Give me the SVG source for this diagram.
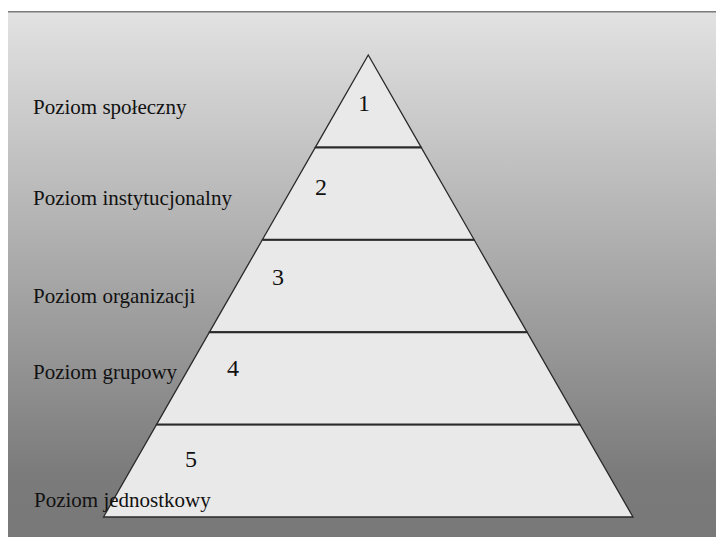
<svg xmlns="http://www.w3.org/2000/svg" width="716" height="537" viewBox="0 0 716 537">
<defs>
<linearGradient id="bg" x1="0" y1="12" x2="0" y2="537" gradientUnits="userSpaceOnUse">
<stop offset="0" stop-color="#e2e2e2"/>
<stop offset="0.88" stop-color="#7b7b7b"/>
<stop offset="1" stop-color="#787878"/>
</linearGradient>
</defs>
<style>
.layer{fill:#e9e9e9;stroke:#2a2a2a;stroke-width:1.3;stroke-linejoin:miter}
.div{stroke:#2a2a2a;stroke-width:2;fill:none}
.num{font-family:"Liberation Serif","Times New Roman",serif;font-size:24px;fill:#111}
.lbl{font-family:"Liberation Serif","Times New Roman",serif;font-size:21px;fill:#111}
</style>
<rect x="0" y="0" width="716" height="537" fill="#ffffff"/>
<rect x="8" y="12" width="708" height="525" fill="url(#bg)"/>
<line x1="8" y1="11.8" x2="716" y2="11.8" stroke="#7a7a7a" stroke-width="1.6"/>
<g id="pyramid">
<g id="layer1"><polygon class="layer" points="368.25,55 421.2,147.4 315.3,147.4"/><text class="num" x="358" y="111">1</text></g>
<g id="layer2"><polygon class="layer" points="315.3,147.4 421.2,147.4 474.15,239.8 262.35,239.8"/><text class="num" x="315" y="195">2</text></g>
<g id="layer3"><polygon class="layer" points="262.35,239.8 474.15,239.8 527.1,332.2 209.4,332.2"/><text class="num" x="272" y="285">3</text></g>
<g id="layer4"><polygon class="layer" points="209.4,332.2 527.1,332.2 580.05,424.6 156.45,424.6"/><text class="num" x="227" y="376">4</text></g>
<g id="layer5"><polygon class="layer" points="156.45,424.6 580.05,424.6 633,517 103.5,517"/><text class="num" x="185" y="467">5</text></g>
</g>
<g id="connectors">
<line class="div" x1="315.3" y1="147.4" x2="421.2" y2="147.4"/>
<line class="div" x1="262.35" y1="239.8" x2="474.15" y2="239.8"/>
<line class="div" x1="209.4" y1="332.2" x2="527.1" y2="332.2"/>
<line class="div" x1="156.45" y1="424.6" x2="580.05" y2="424.6"/>
</g>
<g id="label1"><text class="lbl" x="33" y="114">Poziom społeczny</text></g>
<g id="label2"><text class="lbl" x="33" y="205">Poziom instytucjonalny</text></g>
<g id="label3"><text class="lbl" x="33" y="303">Poziom organizacji</text></g>
<g id="label4"><text class="lbl" x="33" y="379">Poziom grupowy</text></g>
<g id="label5"><text class="lbl" x="34" y="507">Poziom jednostkowy</text></g>
</svg>
